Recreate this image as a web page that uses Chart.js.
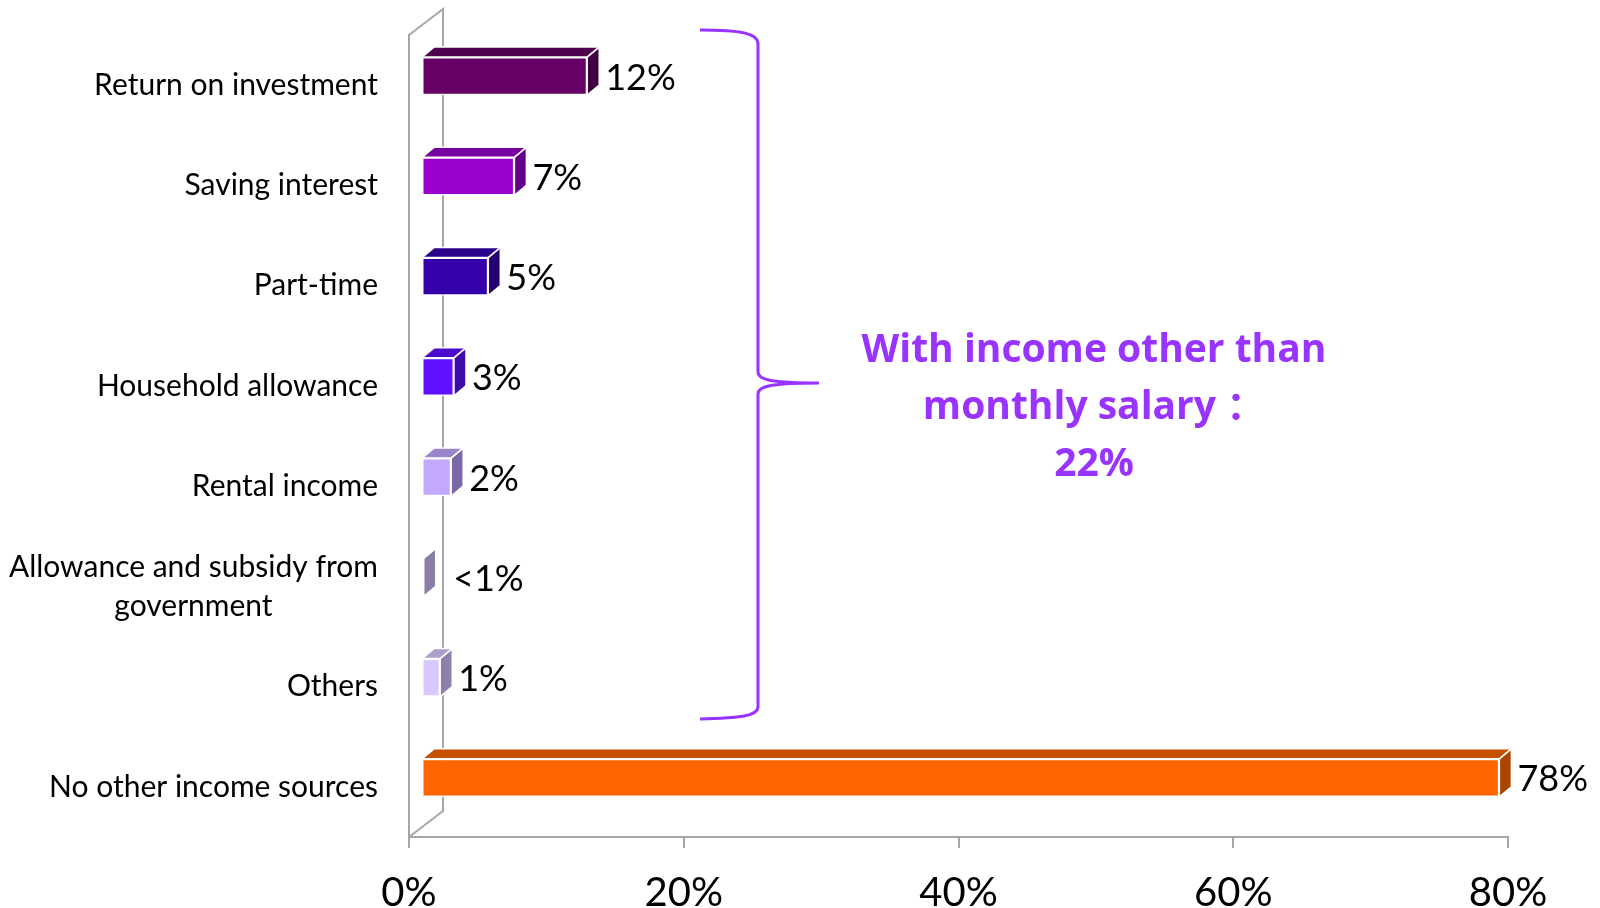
<!DOCTYPE html>
<html>
<head>
<meta charset="utf-8">
<title>Income sources other than monthly salary</title>
<script src="https://cdn.jsdelivr.net/npm/chart.js@4.4.1/dist/chart.umd.min.js"></script>
<style>
  html, body { margin: 0; padding: 0; background: #fff; }
  #wrap { width: 1600px; height: 908px; }
</style>
</head>
<body>
<div id="wrap"><canvas id="incomeChart" width="1600" height="908"></canvas></div>
<script>
// categories, top to bottom
const categories = [
  "Return on investment",
  "Saving interest",
  "Part-time",
  "Household allowance",
  "Rental income",
  ["Allowance and subsidy from", "government"],
  "Others",
  "No other income sources"
];
// bar lengths (%)
const shares = [12.1, 6.8, 4.9, 2.4, 2.2, 0.2, 1.4, 78.5];
// labels printed next to the bars
const valueLabels = ["12%", "7%", "5%", "3%", "2%", "<1%", "1%", "78%"];
// value axis
const axisMin = 0;
const axisMax = 80;
const axisStep = 20;
// callout on the right of the brace
const calloutLines = ["With income other than", "monthly salary \uFF1A", "22%"];

// bar colours: front / top / side faces
const frontColors = ["#660066", "#9900CC", "#3300AA", "#6010FF", "#C4A8FF", "#9A88BF", "#D8C8FF", "#FF6600"];
const topColors   = ["#4E004E", "#7700A0", "#29008A", "#4B0CCC", "#9B86CC", "#8A7DA8", "#ABA0CC", "#C45000"];
const sideColors  = ["#420042", "#640088", "#220072", "#3E0AA8", "#7B68A6", "#8A7DA8", "#8C80AE", "#A84400"];

const FONT = "Lato, 'Noto Sans', 'Noto Sans CJK SC', sans-serif";
const CALLOUT_FONT = "'Open Sans', 'Noto Sans CJK SC', sans-serif";
const WALL = "#a6a6a6";
const depth = { x: 12, y: -10 };  // thickness of a bar in depth
const shift = { x: 12, y: -9 };   // bars stand a bit back from the front edge
const wall = { x: 34, y: -26 };   // full depth of the floor / side wall

// side wall + 3D faces of the bars
const boxPlugin = {
  id: "box3d",
  beforeDatasetsDraw(chart) {
    const { ctx, chartArea: a } = chart;
    ctx.save();
    ctx.strokeStyle = WALL;
    ctx.lineWidth = 2;
    ctx.beginPath();
    ctx.moveTo(a.left, a.top);
    ctx.lineTo(a.left + wall.x, a.top + wall.y);
    ctx.lineTo(a.left + wall.x, a.bottom + wall.y);
    ctx.lineTo(a.left, a.bottom);
    ctx.stroke();
    ctx.restore();

    ctx.save();
    ctx.translate(shift.x, shift.y);
  },
  afterDatasetsDraw(chart) {
    const { ctx } = chart;
    const meta = chart.getDatasetMeta(0);
    meta.data.forEach((bar, i) => {
      const { x, y, base, height } = bar.getProps(["x", "y", "base", "height"], true);
      const t = y - height / 2;
      const b = y + height / 2;
      ctx.lineWidth = 1.5;
      ctx.strokeStyle = "#ffffff";
      ctx.lineJoin = "round";

      // top face
      ctx.beginPath();
      ctx.moveTo(base, t);
      ctx.lineTo(base + depth.x, t + depth.y);
      ctx.lineTo(x + depth.x, t + depth.y);
      ctx.lineTo(x, t);
      ctx.closePath();
      ctx.fillStyle = topColors[i];
      ctx.fill();
      ctx.stroke();

      // side face
      ctx.beginPath();
      ctx.moveTo(x, t);
      ctx.lineTo(x + depth.x, t + depth.y);
      ctx.lineTo(x + depth.x, b + depth.y);
      ctx.lineTo(x, b);
      ctx.closePath();
      ctx.fillStyle = sideColors[i];
      ctx.fill();
      ctx.stroke();

      // value label
      ctx.fillStyle = "#000";
      ctx.font = "36px " + FONT;
      ctx.textAlign = "left";
      ctx.textBaseline = "middle";
      ctx.fillText(valueLabels[i], Math.max(x + depth.x + 6, base + 31), y + 2);
    });
    ctx.restore();
  }
};

// category labels, multi-line ones centred as a block
const labelPlugin = {
  id: "catLabels",
  afterDraw(chart) {
    const { ctx } = chart;
    const yScale = chart.scales.y;
    const right = yScale.right - 31;
    const lh = 39;
    ctx.save();
    ctx.font = "30px " + FONT;
    ctx.fillStyle = "#000";
    ctx.textAlign = "center";
    ctx.textBaseline = "middle";
    categories.forEach((c, i) => {
      const lines = Array.isArray(c) ? c : [c];
      const w = Math.max(...lines.map(l => ctx.measureText(l).width));
      const cx = right - w / 2;
      const y0 = yScale.getPixelForTick(i) - (lines.length - 1) * lh / 2;
      lines.forEach((l, k) => ctx.fillText(l, cx, y0 + k * lh));
    });
    ctx.restore();
  }
};

// brace + callout text
const calloutPlugin = {
  id: "callout",
  afterDraw(chart) {
    const { ctx } = chart;
    ctx.save();
    ctx.strokeStyle = "#9933FF";
    ctx.lineWidth = 3;
    ctx.beginPath();
    ctx.moveTo(700, 30);
    ctx.bezierCurveTo(740, 30, 758, 33, 758, 44);
    ctx.lineTo(758, 372);
    ctx.bezierCurveTo(758, 380, 772, 383, 819, 383);
    ctx.bezierCurveTo(772, 383, 758, 386, 758, 394);
    ctx.lineTo(758, 707);
    ctx.bezierCurveTo(758, 716, 740, 718, 700, 719);
    ctx.stroke();

    ctx.fillStyle = "#9933FF";
    ctx.font = "bold 39px " + CALLOUT_FONT;
    ctx.textAlign = "center";
    ctx.textBaseline = "alphabetic";
    calloutLines.forEach((l, k) => ctx.fillText(l, 1094, 362 + k * 57));
    ctx.restore();
  }
};

new Chart(document.getElementById("incomeChart"), {
  type: "bar",
  data: {
    labels: categories,
    datasets: [{
      data: shares,
      backgroundColor: frontColors,
      borderColor: "#ffffff",
      borderWidth: 1.5,
      borderSkipped: false,
      barPercentage: 0.38,
      categoryPercentage: 1
    }]
  },
  options: {
    indexAxis: "y",
    responsive: false,
    animation: false,
    layout: { padding: { top: 35, right: 92, left: 0, bottom: 0 } },
    plugins: {
      legend: { display: false },
      tooltip: { enabled: false }
    },
    scales: {
      x: {
        min: axisMin,
        max: axisMax,
        ticks: {
          stepSize: axisStep,
          callback: v => v + "%",
          color: "#000",
          padding: 21,
          font: { family: FONT, size: 40 }
        },
        grid: {
          drawOnChartArea: false,
          drawTicks: true,
          tickLength: 11,
          color: WALL,
          lineWidth: 2
        },
        border: { display: true, color: WALL, width: 2 },
        afterFit: s => { s.height = 71; }
      },
      y: {
        ticks: { display: false },
        grid: { display: false },
        border: { display: true, color: WALL, width: 2 },
        afterFit: s => { s.width = 409; }
      }
    }
  },
  plugins: [boxPlugin, labelPlugin, calloutPlugin]
});
</script>
</body>
</html>
